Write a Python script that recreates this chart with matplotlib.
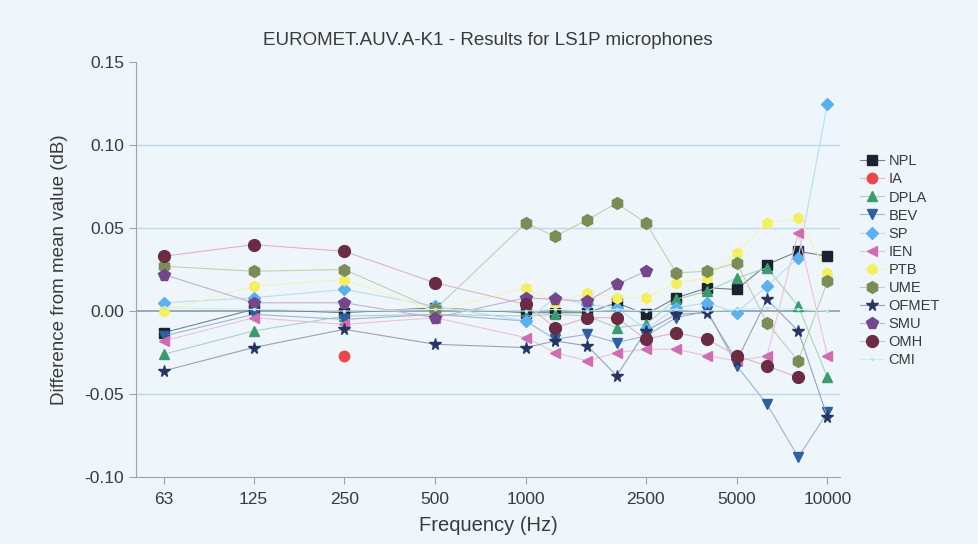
import numpy as np
import matplotlib
matplotlib.use('Agg')
import matplotlib.pyplot as plt

plt.rcParams['font.family'] = ['Liberation Sans', 'DejaVu Sans']

nan = np.nan

# frequências (Hz) - terços de oitava acima de 1 kHz
freq = [63, 125, 250, 500, 1000, 1250, 1600, 2000, 2500, 3150, 4000, 5000, 6300, 8000, 10000]

npl   = [-0.013, 0.001, -0.001, 0.002, -0.001, -0.001, -0.001, 0.005, -0.002, 0.008, 0.014, 0.013, 0.028, 0.036, 0.033]
ia    = [nan, nan, -0.027, nan, nan, nan, nan, nan, nan, nan, nan, nan, nan, nan, nan]
dpla  = [-0.026, -0.012, -0.003, -0.002, -0.003, -0.002, -0.003, -0.010, -0.008, 0.007, 0.012, 0.020, 0.026, 0.003, -0.040]
bev   = [-0.015, -0.002, -0.005, -0.002, -0.006, -0.017, -0.014, -0.019, -0.015, -0.004, 0.000, -0.033, -0.056, -0.088, -0.061]
sp    = [0.005, 0.008, 0.013, 0.003, -0.006, 0.008, 0.004, 0.002, -0.011, 0.002, 0.005, -0.001, 0.015, 0.032, 0.125]
ien   = [-0.018, -0.004, -0.008, -0.004, -0.016, -0.025, -0.030, -0.025, -0.023, -0.023, -0.027, -0.030, -0.027, 0.047, -0.027]
ptb   = [0.000, 0.015, 0.019, 0.000, 0.014, 0.005, 0.011, 0.008, 0.008, 0.017, 0.020, 0.035, 0.053, 0.056, 0.023]
ume   = [0.027, 0.024, 0.025, 0.001, 0.053, 0.045, 0.055, 0.065, 0.053, 0.023, 0.024, 0.029, -0.007, -0.030, 0.018]
ofmet = [-0.036, -0.022, -0.011, -0.020, -0.022, -0.018, -0.021, -0.039, -0.012, -0.002, -0.001, -0.030, 0.007, -0.012, -0.064]
smu   = [0.022, 0.005, 0.005, -0.004, 0.008, 0.007, 0.006, 0.016, 0.024, nan, nan, nan, nan, nan, nan]
omh   = [0.033, 0.040, 0.036, 0.017, 0.004, -0.010, -0.004, -0.004, -0.017, -0.013, -0.017, -0.027, -0.033, -0.040, nan]
cmi   = [0.002, 0.001, 0.000, 0.001, 0.000, 0.001, 0.000, 0.001, 0.000, 0.001, 0.000, 0.001, 0.002, 0.001, 0.000]

labs = ['NPL', 'IA', 'DPLA', 'BEV', 'SP', 'IEN', 'PTB', 'UME', 'OFMET', 'SMU', 'OMH', 'CMI']
series = [npl, ia, dpla, bev, sp, ien, ptb, ume, ofmet, smu, omh, cmi]
cores = ['#1c2230', '#e8484c', '#3d9a6e', '#2f5f9c', '#5cb0ee', '#d06cb0',
         '#f4ee62', '#7c8c58', '#283462', '#74468a', '#6a2c44', '#b8e6f2']
linhas = ['#7a7e88', '#f4b4bc', '#a8d4bc', '#9cb4d4', '#b8dcf6', '#ecc0dc',
          '#f6f2b8', '#c4ceb0', '#9aa0bc', '#c4b0d0', '#e0b4c0', '#c8eef6']
marcas = ['s', 'o', '^', 'v', 'D', '<', 'h', 'h', '*', 'p', 'o', '.']
tam = [6.5, 7.5, 7.5, 7.5, 6.5, 7.5, 7.5, 8.5, 8.5, 8.5, 8.5, 3]

fundo = '#eef6fb'

fig = plt.figure(figsize=(9.79, 5.44), dpi=100, facecolor=fundo)
ax = fig.add_axes([0.139, 0.123, 0.719, 0.763], facecolor=fundo)

for y in [0.10, 0.05, -0.05]:
    ax.axhline(y, color='#bcd8ea', lw=1.0, zorder=0)
ax.axhline(0, color='#8c9ca4', lw=1.2, zorder=0)

for vals, lab, c, lc, m, s in zip(series, labs, cores, linhas, marcas, tam):
    ax.plot(freq, vals, color=lc, lw=0.8, marker=m, markersize=s,
            markerfacecolor=c, markeredgecolor=c, label=lab, zorder=2)

ax.set_xscale('log')
ax.set_xlim(51, 11000)
ax.set_ylim(-0.10, 0.15)
xt = [63, 125, 250, 500, 1000, 2500, 5000, 10000]
ax.set_xticks(xt)
ax.set_xticklabels([str(v) for v in xt])
ax.xaxis.set_minor_locator(matplotlib.ticker.NullLocator())
ax.set_yticks([-0.10, -0.05, 0.00, 0.05, 0.10, 0.15])
ax.set_yticklabels(['%.2f' % v for v in [-0.10, -0.05, 0.00, 0.05, 0.10, 0.15]])
ax.tick_params(labelsize=12.5, colors='#3a3a3a', length=5, color='#9aa4aa')
ax.tick_params(axis='x', pad=6)

for lado in ['top', 'right']:
    ax.spines[lado].set_visible(False)
ax.spines['left'].set_color('#9aa4aa')
ax.spines['bottom'].set_color('#9aa4aa')

ax.set_title('EUROMET.AUV.A-K1 - Results for LS1P microphones', fontsize=13.5, color='#3a3a3a', pad=12)
ax.set_xlabel('Frequency (Hz)', fontsize=14.5, color='#3a3a3a', labelpad=6)
ax.set_ylabel('Difference from mean value (dB)', fontsize=13.5, color='#3a3a3a', labelpad=12)

fig.legend(loc='upper left', bbox_to_anchor=(0.872, 0.727), frameon=False,
           fontsize=10.5, handlelength=1.7, labelspacing=0.28, borderaxespad=0,
           handletextpad=0.3, labelcolor='#3a3a3a')

plt.savefig('out.png', dpi=100, facecolor=fundo)
